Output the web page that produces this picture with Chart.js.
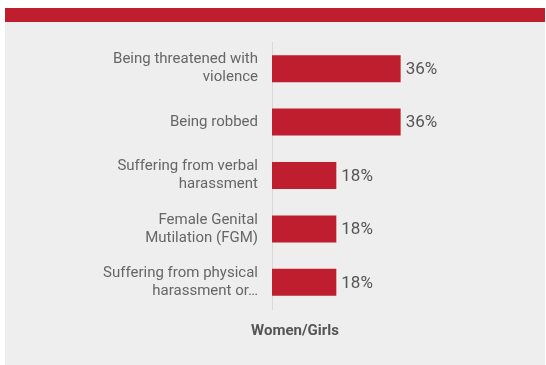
<!DOCTYPE html>
<html>
<head>
<meta charset="utf-8">
<script src="https://cdn.jsdelivr.net/npm/chart.js@4/dist/chart.umd.min.js"></script>
<style>
  html, body { margin: 0; padding: 0; background: #ffffff; }
  body { width: 546px; height: 365px; position: relative; overflow: hidden; }
  #panel {
    position: absolute; left: 5px; top: 8px; width: 540px; height: 357px;
    background: #eeeeee; border-top: 14px solid #be1e2d; box-sizing: border-box;
  }
  #wrap { position: absolute; left: 0; top: 0; width: 540px; height: 343px; }
</style>
</head>
<body>
<div id="panel"><div id="wrap"><canvas id="c"></canvas></div></div>
<script>
// Categories (multi-line tick labels) and the share of women/girls per item
const categories = [
  ["Being threatened with", "violence"],
  ["Being robbed"],
  ["Suffering from verbal", "harassment"],
  ["Female Genital", "Mutilation (FGM)"],
  ["Suffering from physical", "harassment or…"]
];
const values = [36, 36, 18, 18, 18];
const seriesName = "Women/Girls";

const RED = "#be1e2d";
const FONT = "Roboto, 'Liberation Sans', sans-serif";

// Draws the percentage at the end of each bar
const valueLabels = {
  id: "valueLabels",
  afterDatasetsDraw(chart) {
    const { ctx } = chart;
    const meta = chart.getDatasetMeta(0);
    ctx.save();
    ctx.font = "17px " + FONT;
    ctx.fillStyle = "#555555";
    ctx.textAlign = "left";
    ctx.textBaseline = "middle";
    meta.data.forEach((bar, i) => {
      ctx.fillText(values[i] + "%", bar.x + 5, bar.y + 1);
    });
    ctx.restore();
  }
};

// Axis title under the plot
const axisTitle = {
  id: "axisTitle",
  afterDraw(chart) {
    const { ctx, chartArea } = chart;
    ctx.save();
    ctx.font = "bold 15px " + FONT;
    ctx.fillStyle = "#555555";
    ctx.textAlign = "center";
    ctx.textBaseline = "middle";
    ctx.fillText(seriesName, chartArea.left + 23, chartArea.bottom + 22);
    ctx.restore();
  }
};

new Chart(document.getElementById("c"), {
  type: "bar",
  data: {
    labels: categories,
    datasets: [{
      label: seriesName,
      data: values,
      backgroundColor: RED,
      borderWidth: 0,
      categoryPercentage: 1,
      barPercentage: 0.506
    }]
  },
  options: {
    indexAxis: "y",
    responsive: true,
    maintainAspectRatio: false,
    animation: false,
    layout: { padding: { top: 20, right: 5, bottom: 56, left: 0 } },
    plugins: { legend: { display: false }, tooltip: { enabled: false } },
    scales: {
      x: {
        display: false,
        min: 0,
        max: 75
      },
      y: {
        afterFit(scale) {
          scale.width = 267;
          // labels sit inside their category bands, no extra vertical room needed
          scale.paddingTop = 0;
          scale.paddingBottom = 0;
        },
        grid: { display: false, drawTicks: false },
        border: { display: true, color: "#d9d9d9", width: 1 },
        ticks: {
          color: "#666666",
          padding: 14,
          font: { family: FONT, size: 15, lineHeight: 1.2 }
        }
      }
    }
  },
  plugins: [valueLabels, axisTitle]
});
</script>
</body>
</html>
